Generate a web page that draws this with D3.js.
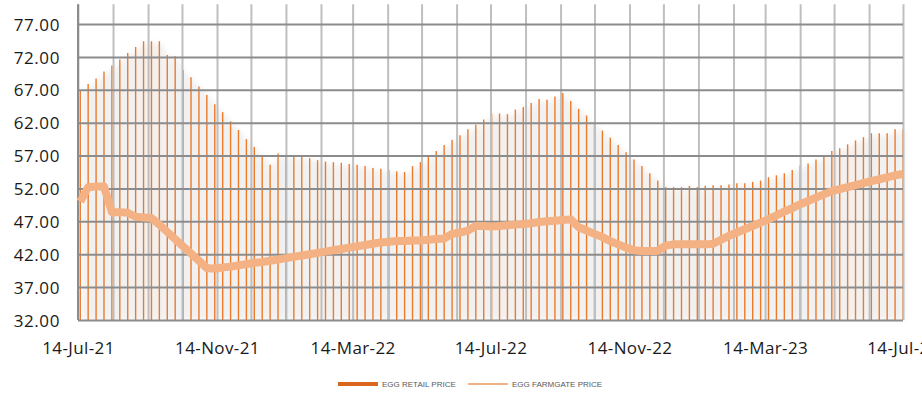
<!DOCTYPE html>
<html>
<head>
<meta charset="utf-8">
<script src="https://cdn.jsdelivr.net/npm/d3@7"></script>
<style>
	body { margin: 0; background: #fff; }
	svg { display: block; }
</style>
</head>
<body>
<svg id="chart" width="922" height="403"></svg>
<script>
// weekly egg prices, first week 16-Jul-21
const firstWeek = '2021-07-16';

const retailPrice = [
	66.9, 67.9, 68.7, 69.8, 70.7, 71.6, 72.6, 73.5, 74.4, 74.4,
	74.4, 72.3, 72.1, 70.0, 68.9, 67.5, 66.2, 64.8, 63.6, 62.2,
	60.9, 59.5, 58.3, 56.9, 55.6, 57.3, 57.0, 56.9, 56.9, 56.6,
	56.3, 56.1, 56.0, 55.9, 55.7, 55.6, 55.4, 55.1, 55.0, 54.8,
	54.6, 54.5, 55.4, 56.0, 56.8, 57.7, 58.6, 59.4, 60.1, 61.0,
	61.7, 62.5, 63.4, 63.4, 63.3, 64.0, 64.4, 65.0, 65.6, 65.5,
	66.0, 66.5, 65.3, 64.1, 63.1, 61.8, 60.8, 59.7, 58.6, 57.5,
	56.4, 55.4, 54.3, 53.2, 52.2, 52.2, 52.2, 52.4, 52.2, 52.4,
	52.5, 52.5, 52.6, 52.8, 52.8, 53.0, 53.2, 53.7, 54.0, 54.3,
	54.8, 55.5, 55.8, 56.4, 57.1, 57.7, 58.1, 58.7, 59.3, 59.8,
	60.4, 60.4, 60.4, 61.0, 61.0
];

const farmgatePrice = [
	50.0, 52.2, 52.3, 52.3, 48.4, 48.4, 48.3, 47.7, 47.6, 47.5,
	46.5, 45.4, 44.3, 43.2, 42.1, 41.0, 39.9, 39.8, 40.0, 40.1,
	40.3, 40.5, 40.7, 40.8, 41.0, 41.2, 41.4, 41.6, 41.8, 42.0,
	42.2, 42.4, 42.6, 42.8, 43.0, 43.2, 43.4, 43.6, 43.8, 43.9,
	44.0, 44.0, 44.1, 44.1, 44.2, 44.3, 44.4, 45.1, 45.3, 45.6,
	46.3, 46.3, 46.2, 46.3, 46.4, 46.5, 46.6, 46.7, 46.9, 47.0,
	47.1, 47.2, 47.3, 46.1, 45.6, 45.1, 44.6, 44.0, 43.5, 43.0,
	42.6, 42.5, 42.5, 42.5, 43.3, 43.5, 43.5, 43.5, 43.5, 43.5,
	43.6, 44.2, 44.8, 45.3, 45.8, 46.3, 46.8, 47.3, 47.9, 48.5,
	49.0, 49.6, 50.1, 50.6, 51.1, 51.6, 51.9, 52.2, 52.5, 52.8,
	53.1, 53.4, 53.7, 54.0, 54.2
];

const yTicks = [32, 37, 42, 47, 52, 57, 62, 67, 72, 77];
const xLabelDates = ['2021-07-14', '2021-11-14', '2022-03-14', '2022-07-14', '2022-11-14', '2023-03-14', '2023-07-14'];
const seriesNames = ['EGG RETAIL PRICE', 'EGG FARMGATE PRICE'];

const parseDate = d3.timeParse('%Y-%m-%d');
const formatDate = d3.timeFormat('%-d-%b-%y');

const startWeek = parseDate(firstWeek);
const weeks = retailPrice.map((v, i) => ({
	date: d3.timeDay.offset(startWeek, 7 * i),
	retail: v,
	farmgate: farmgatePrice[i]
}));

const svg = d3.select('#chart');
const plotLeft = 78, plotRight = 903, plotTop = 4.3, plotBottom = 320;

const x = d3.scaleTime()
	.domain([parseDate(xLabelDates[0]), parseDate(xLabelDates[xLabelDates.length - 1])])
	.range([plotLeft, plotRight]);
const y = d3.scaleLinear()
	.domain([32, 80])
	.range([plotBottom, plotTop]);

// monthly grid on the 14th
const gridDates = d3.timeMonth.range(d3.timeMonth.floor(x.domain()[0]), d3.timeDay.offset(x.domain()[1], 1))
	.map(d => d3.timeDay.offset(d, 13));

// soft shadow under the bars
const defs = svg.append('defs');
defs.append('filter').attr('id', 'soft')
	.attr('x', '-5%').attr('y', '-5%').attr('width', '110%').attr('height', '110%')
	.append('feGaussianBlur').attr('stdDeviation', 2.5);

const shadow = d3.area()
	.x(d => x(d.date) + 2)
	.y0(plotBottom)
	.y1(d => y(d.retail) + 2);

svg.append('path')
	.datum(weeks)
	.attr('d', shadow)
	.attr('fill', '#e9e9e9')
	.attr('opacity', 0.6)
	.attr('filter', 'url(#soft)');

// retail bars
svg.append('g').selectAll('line')
	.data(weeks)
	.enter().append('line')
	.attr('x1', d => x(d.date))
	.attr('x2', d => x(d.date))
	.attr('y1', plotBottom)
	.attr('y2', d => y(d.retail))
	.attr('stroke', '#ec7a2a')
	.attr('stroke-width', 1.4);

// vertical grid
const vGrid = svg.append('g')
	.attr('transform', `translate(0,${plotBottom})`)
	.call(d3.axisBottom(x).tickValues(gridDates).tickSize(-(plotBottom - plotTop)).tickFormat(''));
vGrid.select('.domain').remove();
vGrid.selectAll('.tick line').attr('stroke', '#bfbfbf').attr('stroke-width', 2);

// horizontal grid
const hGrid = svg.append('g')
	.attr('transform', `translate(${plotLeft},0)`)
	.call(d3.axisLeft(y).tickValues(yTicks).tickSize(-(plotRight - plotLeft)).tickFormat(''));
hGrid.select('.domain').remove();
hGrid.selectAll('.tick line').attr('stroke', '#8c8c8c').attr('stroke-width', 2);

// left axis line
svg.append('line')
	.attr('x1', plotLeft).attr('x2', plotLeft)
	.attr('y1', plotTop).attr('y2', plotBottom)
	.attr('stroke', '#8c8c8c').attr('stroke-width', 2);

// farmgate line
const line = d3.line()
	.x(d => x(d.date))
	.y(d => y(d.farmgate));

svg.append('path')
	.datum(weeks)
	.attr('d', line)
	.attr('fill', 'none')
	.attr('stroke', '#f4b183')
	.attr('stroke-width', 8)
	.attr('stroke-linejoin', 'round');

// y labels
const yAxis = svg.append('g')
	.attr('transform', 'translate(60,0)')
	.call(d3.axisLeft(y).tickValues(yTicks).tickSize(0).tickFormat(d3.format('.2f')));
yAxis.select('.domain').remove();
yAxis.selectAll('text')
	.attr('x', 0)
	.attr('dy', '0.36em')
	.attr('fill', '#1a1a1a')
	.style('font-family', '"Open Sans", sans-serif')
	.style('font-size', '17px')
	.style('letter-spacing', '0.6px');

// x labels
const xAxis = svg.append('g')
	.attr('transform', `translate(0,${plotBottom})`)
	.call(d3.axisBottom(x).tickValues(xLabelDates.map(parseDate)).tickSize(0).tickFormat(formatDate));
xAxis.select('.domain').remove();
xAxis.selectAll('text')
	.attr('y', 34)
	.attr('dy', 0)
	.attr('fill', '#1a1a1a')
	.style('font-family', '"Open Sans", sans-serif')
	.style('font-size', '17px')
	.style('letter-spacing', '0.4px');

// legend
const legend = svg.append('g').attr('transform', 'translate(0,384)');
const legendItems = [
	{ name: seriesNames[0], x: 338, color: '#d9661c', width: 4 },
	{ name: seriesNames[1], x: 468, color: '#f4b183', width: 2 }
];
legendItems.forEach(item => {
	legend.append('line')
		.attr('x1', item.x).attr('x2', item.x + 40)
		.attr('y1', 0).attr('y2', 0)
		.attr('stroke', item.color)
		.attr('stroke-width', item.width);
	legend.append('text')
		.attr('x', item.x + 44)
		.attr('y', 2.8)
		.attr('fill', '#595959')
		.style('font-family', '"Liberation Sans Narrow", "Liberation Sans", sans-serif')
		.style('font-size', '8px')
		.text(item.name);
});
</script>
</body>
</html>
